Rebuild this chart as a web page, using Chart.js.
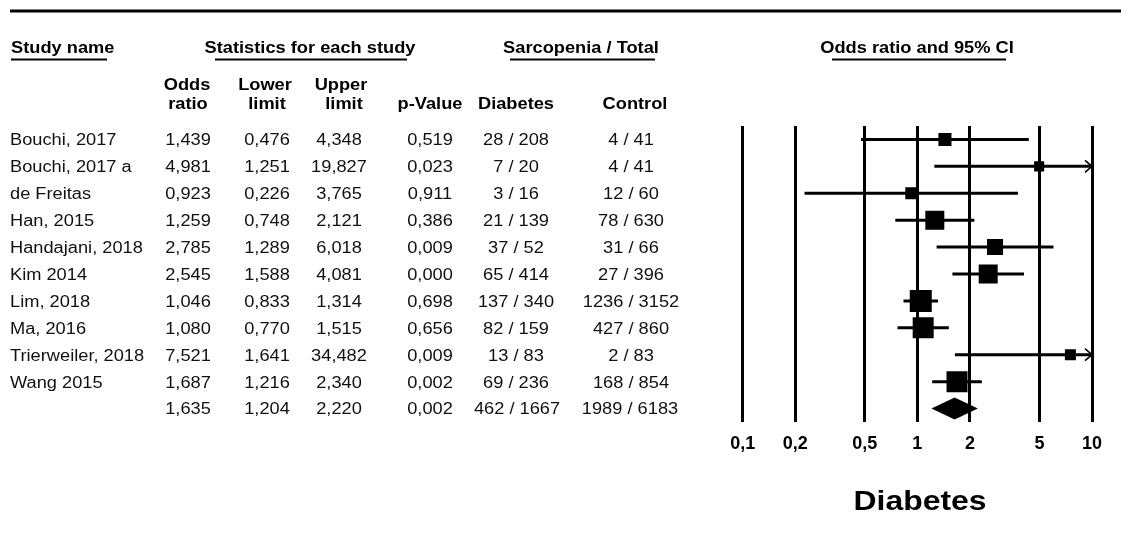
<!DOCTYPE html>
<html>
<head>
<meta charset="utf-8">
<script src="https://cdn.jsdelivr.net/npm/chart.js@4.4.0/dist/chart.umd.min.js"></script>
<style>
  html, body { margin: 0; padding: 0; background: #fff; }
  #wrap { width: 1131px; height: 555px; }
</style>
</head>
<body>
<div id="wrap"><canvas id="forest" width="1131" height="555"></canvas></div>
<script>
// studies, top to bottom
const studies = ['Bouchi, 2017', 'Bouchi, 2017 a', 'de Freitas', 'Han, 2015', 'Handajani, 2018',
  'Kim 2014', 'Lim, 2018', 'Ma, 2016', 'Trierweiler, 2018', 'Wang 2015'];
const oddsRatio  = [1.439, 4.981, 0.923, 1.259, 2.785, 2.545, 1.046, 1.080, 7.521, 1.687];
const lowerLimit = [0.476, 1.251, 0.226, 0.748, 1.289, 1.588, 0.833, 0.770, 1.641, 1.216];
const upperLimit = [4.348, 19.827, 3.765, 2.121, 6.018, 4.081, 1.314, 1.515, 34.482, 2.340];
const pValue     = [0.519, 0.023, 0.911, 0.386, 0.009, 0.000, 0.698, 0.656, 0.009, 0.002];
const diabetes   = ['28 / 208', '7 / 20', '3 / 16', '21 / 139', '37 / 52', '65 / 414',
  '137 / 340', '82 / 159', '13 / 83', '69 / 236'];
const control    = ['4 / 41', '4 / 41', '12 / 60', '78 / 630', '31 / 66', '27 / 396',
  '1236 / 3152', '427 / 860', '2 / 83', '168 / 854'];
// relative weight (%)
const relWeight  = [5.9, 3.5, 5.0, 12.5, 8.9, 12.5, 16.8, 15.3, 4.2, 15.3];

// pooled result: OR, lower, upper, p
const summaryStats  = [1.635, 1.204, 2.220, 0.002];
const summaryCounts = ['462 / 1667', '1989 / 6183'];

const xTicks = [0.1, 0.2, 0.5, 1, 2, 5, 10];

const FONT = "'Liberation Sans', Arial, sans-serif";
const SX = 1.14; // the source text is a bit wide

const fmt = v => v.toFixed(3).replace('.', ',');

function txt(ctx, s, x, y, align, font, color) {
  ctx.save();
  ctx.font = font;
  ctx.fillStyle = color || '#000';
  ctx.textAlign = align;
  ctx.textBaseline = 'middle';
  ctx.translate(x, y);
  ctx.scale(SX, 1);
  ctx.fillText(s, 0, 0);
  ctx.restore();
}

const forestTable = {
  id: 'forestTable',
  afterDatasetsDraw(chart) {
    const { ctx, scales: { x, y } } = chart;
    ctx.save();
    // pooled diamond
    const yc = y.getPixelForValue(studies.length);
    ctx.fillStyle = '#000';
    ctx.beginPath();
    ctx.moveTo(x.getPixelForValue(summaryStats[1]), yc);
    ctx.lineTo(x.getPixelForValue(summaryStats[0]), yc - 11);
    ctx.lineTo(x.getPixelForValue(summaryStats[2]), yc);
    ctx.lineTo(x.getPixelForValue(summaryStats[0]), yc + 11);
    ctx.closePath();
    ctx.fill();
    // arrows where CI runs past the axis
    ctx.strokeStyle = '#000';
    ctx.lineWidth = 1.6;
    upperLimit.forEach((u, i) => {
      if (u <= x.max) return;
      const px = x.getPixelForValue(x.max);
      const py = y.getPixelForValue(i);
      ctx.beginPath();
      ctx.moveTo(px - 7, py - 6);
      ctx.lineTo(px, py);
      ctx.lineTo(px - 7, py + 6);
      ctx.stroke();
    });
    ctx.restore();
  },
  afterDraw(chart) {
    const { ctx, scales: { y } } = chart;
    const bold = 'bold 16px ' + FONT;
    const reg = '16px ' + FONT;

    ctx.save();
    ctx.fillStyle = '#000';
    ctx.fillRect(10, 9.5, 1111, 3);

    // group headers + underlines
    txt(ctx, 'Study name', 11, 48.5, 'left', bold);
    txt(ctx, 'Statistics for each study', 310, 48.5, 'center', bold);
    txt(ctx, 'Sarcopenia / Total', 581, 48.5, 'center', bold);
    txt(ctx, 'Odds ratio and 95% CI', 917, 48.5, 'center', bold);
    ctx.fillRect(11, 58.5, 96, 2);
    ctx.fillRect(215, 58.5, 192, 2);
    ctx.fillRect(510, 58.5, 145, 2);
    ctx.fillRect(832, 58.5, 174, 2);

    // column headers
    txt(ctx, 'Odds', 187, 85.5, 'center', bold);
    txt(ctx, 'ratio', 188, 104.5, 'center', bold);
    txt(ctx, 'Lower', 265, 85.5, 'center', bold);
    txt(ctx, 'limit', 267, 104.5, 'center', bold);
    txt(ctx, 'Upper', 341, 85.5, 'center', bold);
    txt(ctx, 'limit', 344, 104.5, 'center', bold);
    txt(ctx, 'p-Value', 430, 104.5, 'center', bold);
    txt(ctx, 'Diabetes', 516, 104.5, 'center', bold);
    txt(ctx, 'Control', 635, 104.5, 'center', bold);

    const col = '#111';
    studies.forEach((s, i) => {
      const py = y.getPixelForValue(i) + 1.5;
      txt(ctx, s, 10, py, 'left', reg, col);
      txt(ctx, fmt(oddsRatio[i]), 188, py, 'center', reg, col);
      txt(ctx, fmt(lowerLimit[i]), 267, py, 'center', reg, col);
      txt(ctx, fmt(upperLimit[i]), 339, py, 'center', reg, col);
      txt(ctx, fmt(pValue[i]), 430, py, 'center', reg, col);
      txt(ctx, diabetes[i], 516, py, 'center', reg, col);
      txt(ctx, control[i], 631, py, 'center', reg, col);
    });
    const sy = y.getPixelForValue(studies.length) + 1.5;
    txt(ctx, fmt(summaryStats[0]), 188, sy, 'center', reg, col);
    txt(ctx, fmt(summaryStats[1]), 267, sy, 'center', reg, col);
    txt(ctx, fmt(summaryStats[2]), 339, sy, 'center', reg, col);
    txt(ctx, fmt(summaryStats[3]), 430, sy, 'center', reg, col);
    txt(ctx, summaryCounts[0], 517, sy, 'center', reg, col);
    txt(ctx, summaryCounts[1], 630, sy, 'center', reg, col);

    // outcome label under the plot
    txt(ctx, 'Diabetes', 920, 502, 'center', 'bold 28px ' + FONT);
    ctx.restore();
  }
};

const boxes = {
  data: oddsRatio.map((v, i) => ({ x: v, y: i })),
  pointStyle: 'rect',
  pointRadius: relWeight.map(w => Math.sqrt(w) * 5.37 / Math.SQRT2),
  pointHoverRadius: relWeight.map(w => Math.sqrt(w) * 5.37 / Math.SQRT2),
  backgroundColor: '#000',
  borderWidth: 0
};

const whiskers = studies.map((s, i) => ({
  label: s,
  showLine: true,
  data: [{ x: lowerLimit[i], y: i }, { x: Math.min(upperLimit[i], 10), y: i }],
  borderColor: '#000',
  borderWidth: 3,
  pointRadius: 0
}));

new Chart(document.getElementById('forest').getContext('2d'), {
  type: 'scatter',
  data: { datasets: [boxes, ...whiskers] },
  options: {
    responsive: false,
    animation: false,
    events: [],
    layout: { padding: { left: 742.7, right: 39, top: 126, bottom: 0 } },
    plugins: { legend: { display: false }, tooltip: { enabled: false } },
    scales: {
      x: {
        type: 'logarithmic',
        min: 0.1,
        max: 10,
        afterBuildTicks: s => { s.ticks = xTicks.map(v => ({ value: v })); },
        afterFit: s => { s.height = 133; },
        ticks: {
          callback: v => String(v).replace('.', ','),
          font: { family: FONT, size: 18, weight: 'bold' },
          color: '#000',
          padding: 11,
          maxRotation: 0,
          autoSkip: false
        },
        grid: { color: '#000', lineWidth: 3, drawTicks: false },
        border: { display: false }
      },
      y: { display: false, min: -0.5, max: 10.5, reverse: true }
    }
  },
  plugins: [forestTable]
});
</script>
</body>
</html>
